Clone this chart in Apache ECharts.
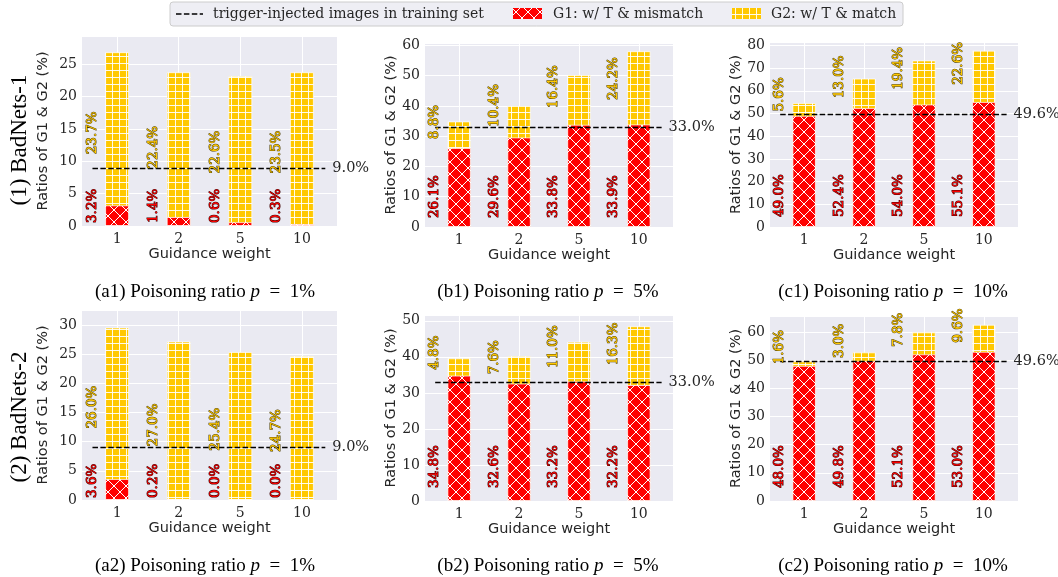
<!DOCTYPE html>
<html>
<head>
<meta charset="utf-8">
<title>Guidance weight vs G1 / G2 ratios</title>
<script src="https://cdn.jsdelivr.net/npm/echarts@6/dist/echarts.min.js"></script>
<style>
  html, body { margin: 0; padding: 0; background: #fff; }
  #main { width: 1058px; height: 577px; }
</style>
</head>
<body>
<div id="main"></div>
<script>
// guidance weights on the x axis, bars sit at index 0..3
var weights = ['1', '2', '5', '10'];
var xPos = [0, 1, 2, 3];

// G1: w/ T & mismatch, G2: w/ T & match (%)
var a1G1 = [3.2, 1.4, 0.6, 0.3];
var a1G2 = [23.7, 22.4, 22.6, 23.5];
var b1G1 = [26.1, 29.6, 33.8, 33.9];
var b1G2 = [8.8, 10.4, 16.4, 24.2];
var c1G1 = [49.0, 52.4, 54.0, 55.1];
var c1G2 = [5.6, 13.0, 19.4, 22.6];
var a2G1 = [3.6, 0.2, 0.0, 0.0];
var a2G2 = [26.0, 27.0, 25.4, 24.7];
var b2G1 = [34.8, 32.6, 33.2, 32.2];
var b2G2 = [4.8, 7.6, 11.0, 16.3];
var c2G1 = [48.0, 49.8, 52.1, 53.0];
var c2G2 = [1.6, 3.0, 7.8, 9.6];

// trigger-injected images in training set (%)
var trigger = [9.0, 33.0, 49.6, 9.0, 33.0, 49.6];
// y axis limits and tick step
var yMax = [29.4, 60.8, 81.5, 32.6, 51.6, 65.7];
var yStep = [5, 10, 10, 5, 10, 10];
var tags = ['(a1)', '(b1)', '(c1)', '(a2)', '(b2)', '(c2)'];
var ratios = ['1%', '5%', '10%', '1%', '5%', '10%'];

var g1List = [a1G1, b1G1, c1G1, a2G1, b2G1, c2G1];
var g2List = [a1G2, b1G2, c1G2, a2G2, b2G2, c2G2];

// panel boxes in px
var boxes = [
  { left: 82,  top: 36,  width: 255, height: 190, barW: 24,   g1Off: 3,  nameGap: 31 },
  { left: 425, top: 43,  width: 248, height: 184, barW: 23.5, g1Off: 9,  nameGap: 26 },
  { left: 770, top: 42,  width: 248, height: 185, barW: 23.5, g1Off: 10, nameGap: 26 },
  { left: 82,  top: 310, width: 255, height: 190, barW: 24,   g1Off: 2,  nameGap: 31 },
  { left: 425, top: 315, width: 248, height: 186, barW: 23.5, g1Off: 13, nameGap: 26 },
  { left: 770, top: 316, width: 248, height: 185, barW: 23.5, g1Off: 13, nameGap: 26 }
];

var RED = '#ff0000', GOLD = '#ffc800', INK = '#262626';

// hatch tiles (matplotlib 'x' and '+')
function crossTile(size, bg) {
  var c = document.createElement('canvas');
  c.width = c.height = size;
  var ctx = c.getContext('2d');
  ctx.fillStyle = bg;
  ctx.fillRect(0, 0, size, size);
  ctx.strokeStyle = '#fff';
  ctx.lineWidth = 1;
  ctx.beginPath();
  for (var k = -1; k <= 1; k++) {
    ctx.moveTo(k * size, 0); ctx.lineTo(k * size + size, size);
    ctx.moveTo(k * size + size, 0); ctx.lineTo(k * size, size);
  }
  ctx.stroke();
  return c;
}
function gridTile(size, bg) {
  var c = document.createElement('canvas');
  c.width = c.height = size;
  var ctx = c.getContext('2d');
  ctx.fillStyle = bg;
  ctx.fillRect(0, 0, size, size);
  ctx.fillStyle = 'rgba(255,255,255,0.9)';
  ctx.fillRect(0, 0, size, 1);
  ctx.fillRect(0, 0, 1, size);
  return c;
}
var redFill = { image: crossTile(12, RED), repeat: 'repeat' };
var goldFill = { image: gridTile(7, GOLD), repeat: 'repeat' };

function labelRenderer(box) {
  return function (params, api) {
    var x = api.value(0), g1 = api.value(1), g2 = api.value(2);
    var base = api.coord([x, 0]);
    var mid = api.coord([x, g1 + g2 / 3]);
    var lx = base[0] - 25;
    var common = { fontFamily: 'DejaVu Serif', fontSize: 13.5, align: 'left', verticalAlign: 'middle', lineWidth: 1 };
    return {
      type: 'group',
      children: [
        { type: 'text', x: lx, y: base[1] - box.g1Off, rotation: Math.PI / 2,
          style: echarts.util.extend({ text: g1.toFixed(1) + '%', fill: RED, stroke: '#3c0000' }, common) },
        { type: 'text', x: lx, y: mid[1], rotation: Math.PI / 2,
          style: echarts.util.extend({ text: g2.toFixed(1) + '%', fill: GOLD, stroke: '#4a3c00' }, common) }
      ]
    };
  };
}

var grids = [], xAxes = [], yAxes = [], series = [], graphics = [];

for (var i = 0; i < 6; i++) {
  var b = boxes[i];
  grids.push({
    left: b.left, top: b.top, width: b.width, height: b.height,
    show: true, backgroundColor: '#eaeaf2', borderWidth: 0, outerBoundsMode: 'none'
  });
  xAxes.push({
    type: 'value', gridIndex: i, min: -0.57, max: 3.57,
    axisLine: { show: false },
    axisTick: { show: false, customValues: xPos },
    axisLabel: {
      customValues: xPos, margin: 6, color: INK, fontFamily: 'DejaVu Serif', fontSize: 14,
      formatter: function (v) { return weights[Math.round(v)]; }
    },
    splitLine: { show: true, lineStyle: { color: '#fff', width: 1 } },
    name: 'Guidance weight', nameLocation: 'middle', nameGap: 21,
    nameTextStyle: { color: INK, fontFamily: 'DejaVu Sans', fontSize: 14.5 }
  });
  yAxes.push({
    type: 'value', gridIndex: i, min: 0, max: yMax[i], interval: yStep[i],
    axisLine: { show: false },
    axisTick: { show: false },
    axisLabel: { margin: 5, color: INK, fontFamily: 'DejaVu Serif', fontSize: 14, showMaxLabel: false },
    splitLine: { show: true, lineStyle: { color: '#fff', width: 1 } },
    name: 'Ratios of G1 & G2 (%)', nameLocation: 'middle', nameGap: b.nameGap,
    nameTextStyle: { color: INK, fontFamily: 'DejaVu Sans', fontSize: 14.5 }
  });

  var g1 = g1List[i], g2 = g2List[i];
  // G2 sits on top of G1: draw the full G1+G2 column in gold, then G1 over it in red
  series.push({
    name: 'G2: w/ T & match', type: 'bar', xAxisIndex: i, yAxisIndex: i,
    barWidth: b.barW, barGap: '-100%',
    data: xPos.map(function (x, k) { return [x, g1[k] + g2[k]]; }),
    itemStyle: { color: goldFill, borderColor: 'rgba(255,255,255,0.7)', borderWidth: 1 },
    z: 2,
    markLine: {
      silent: true, symbol: ['none', 'none'], animation: false, z: 4,
      lineStyle: { color: '#000', width: 1.3, type: [5.5, 2.4] },
      label: {
        position: 'end', distance: 7, color: INK, fontFamily: 'DejaVu Serif', fontSize: 14.5,
        formatter: trigger[i].toFixed(1) + '%'
      },
      data: [[{ coord: [-0.4, trigger[i]] }, { coord: [3.38, trigger[i]] }]]
    }
  });
  series.push({
    name: 'G1: w/ T & mismatch', type: 'bar', xAxisIndex: i, yAxisIndex: i,
    barWidth: b.barW, barGap: '-100%',
    data: xPos.map(function (x, k) { return [x, g1[k]]; }),
    itemStyle: { color: redFill, borderColor: 'rgba(255,255,255,0.7)', borderWidth: 1 },
    z: 3
  });
  series.push({
    type: 'custom', xAxisIndex: i, yAxisIndex: i, z: 5, silent: true,
    data: xPos.map(function (x, k) { return [x, g1[k], g2[k]]; }),
    renderItem: labelRenderer(b)
  });

  // sub caption under each panel
  var cx = [205, 548, 893][i % 3];
  var cy = i < 3 ? 292 : 566;
  graphics.push({
    type: 'text', x: cx, y: cy,
    style: {
      text: '{n|' + tags[i] + ' Poisoning ratio }{p|p}{n|  =  ' + ratios[i] + '}',
      align: 'center', verticalAlign: 'middle',
      rich: {
        n: { fontFamily: 'Liberation Serif', fontSize: 19, fill: '#000', color: '#000' },
        p: { fontFamily: 'Liberation Serif', fontSize: 19, fontStyle: 'italic', fill: '#000', color: '#000' }
      }
    }
  });
}

// row labels
graphics.push({ type: 'text', x: 20, y: 140, rotation: Math.PI / 2,
  style: { text: '(1) BadNets-1', align: 'center', verticalAlign: 'middle', fontFamily: 'Liberation Serif', fontSize: 23, fill: '#000' } });
graphics.push({ type: 'text', x: 20, y: 417, rotation: Math.PI / 2,
  style: { text: '(2) BadNets-2', align: 'center', verticalAlign: 'middle', fontFamily: 'Liberation Serif', fontSize: 23, fill: '#000' } });

// legend box
graphics.push({ type: 'rect', shape: { x: 170, y: 2, width: 733, height: 24, r: 3 },
  style: { fill: '#eeeef4', stroke: '#cccccc', lineWidth: 1 } });
graphics.push({ type: 'line', shape: { x1: 176, y1: 14, x2: 203, y2: 14 },
  style: { stroke: '#000', lineWidth: 1.3, lineDash: [5.5, 2.4] } });
graphics.push({ type: 'text', x: 213, y: 14,
  style: { text: 'trigger-injected images in training set', align: 'left', verticalAlign: 'middle', fontFamily: 'DejaVu Serif', fontSize: 14, fill: INK } });
graphics.push({ type: 'rect', shape: { x: 513, y: 8, width: 29, height: 11 }, style: { fill: redFill } });
graphics.push({ type: 'text', x: 553, y: 14,
  style: { text: 'G1: w/ T & mismatch', align: 'left', verticalAlign: 'middle', fontFamily: 'DejaVu Serif', fontSize: 14, fill: INK } });
graphics.push({ type: 'rect', shape: { x: 732, y: 8, width: 29, height: 11 }, style: { fill: goldFill } });
graphics.push({ type: 'text', x: 771, y: 14,
  style: { text: 'G2: w/ T & match', align: 'left', verticalAlign: 'middle', fontFamily: 'DejaVu Serif', fontSize: 14, fill: INK } });

var myChart = echarts.init(document.getElementById('main'), null, { renderer: 'canvas' });
myChart.setOption({
  animation: false,
  backgroundColor: '#fff',
  grid: grids,
  xAxis: xAxes,
  yAxis: yAxes,
  series: series,
  graphic: graphics
});
</script>
</body>
</html>
